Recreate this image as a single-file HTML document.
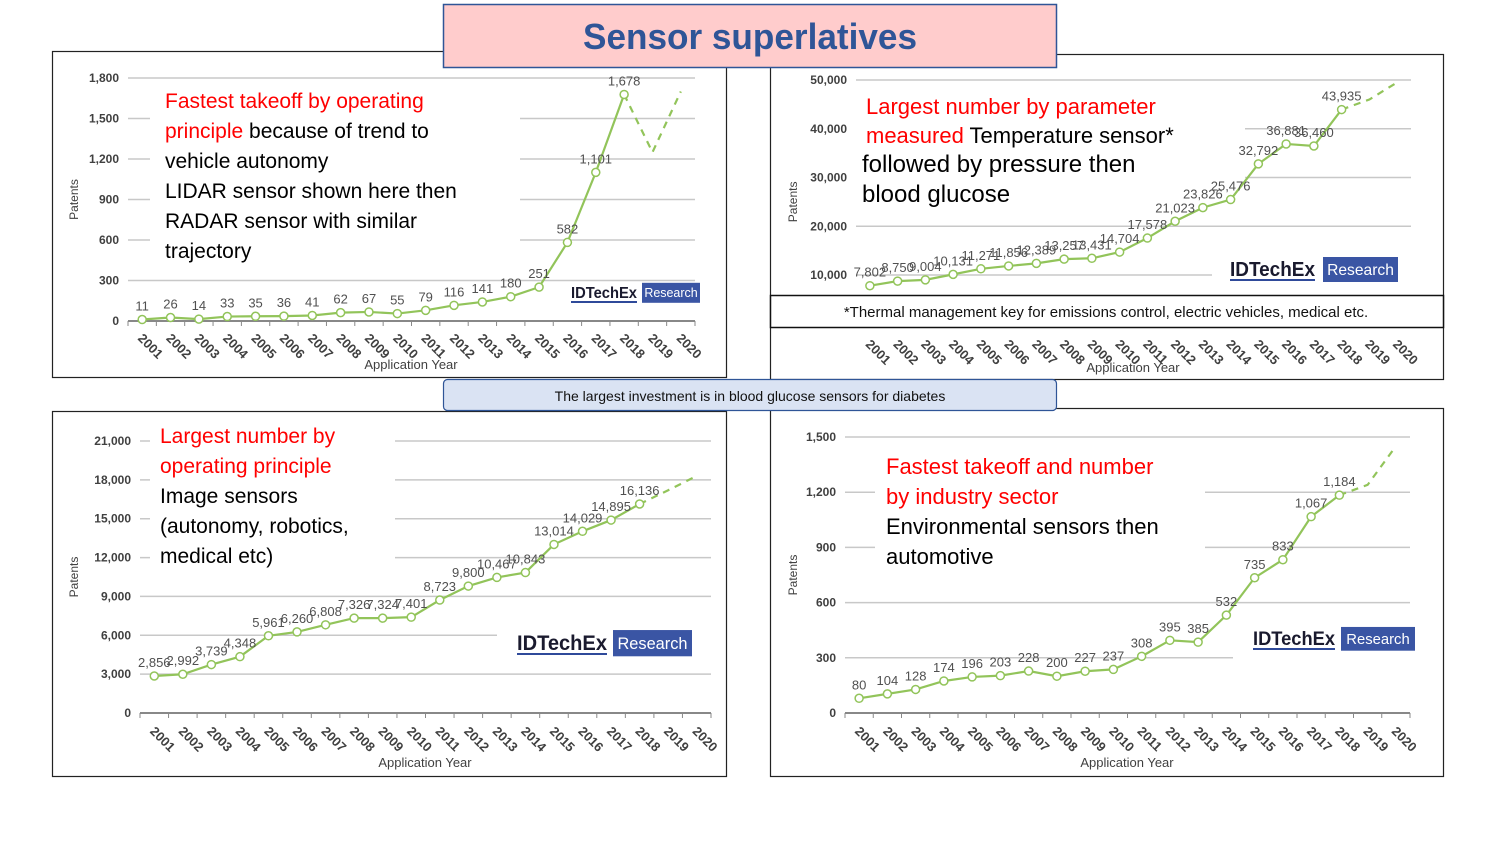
<!DOCTYPE html>
<html><head><meta charset="utf-8"><style>
html,body{margin:0;padding:0;background:#fff;}
svg{display:block;font-family:"Liberation Sans",sans-serif;}
</style></head><body>
<svg id="s" width="1500" height="844" viewBox="0 0 1500 844" xmlns="http://www.w3.org/2000/svg">
<rect width="1500" height="844" fill="#fff"/>
<rect x="52.5" y="51.5" width="674" height="326" fill="#fff" stroke="#222" stroke-width="1.2"/>
<rect x="770.5" y="54.5" width="673" height="325" fill="#fff" stroke="#222" stroke-width="1.2"/>
<rect x="52.5" y="411.5" width="674" height="365" fill="#fff" stroke="#222" stroke-width="1.2"/>
<rect x="770.5" y="408.5" width="673" height="368" fill="#fff" stroke="#222" stroke-width="1.2"/>
<g id="charts"></g>
<rect x="443.5" y="4.5" width="613" height="63" fill="#ffcccc" stroke="#2f5597" stroke-width="1.5"/>
<text x="750" y="49" text-anchor="middle" font-size="36" font-weight="bold" fill="#2f5597" textLength="334" lengthAdjust="spacingAndGlyphs">Sensor superlatives</text>
<rect x="443.5" y="379.5" width="613" height="31" rx="4" fill="#dae3f3" stroke="#2f5597" stroke-width="1.2"/>
<text x="750" y="401" text-anchor="middle" font-size="14" fill="#111">The largest investment is in blood glucose sensors for diabetes</text>
</svg>
<script>
const NS="http://www.w3.org/2000/svg";
const G=document.getElementById('charts');
function el(t,a,txt){const e=document.createElementNS(NS,t);for(const k in a)e.setAttribute(k,a[k]);if(txt!==undefined)e.textContent=txt;G.appendChild(e);return e;}
function fmt(v){return v.toLocaleString('en-US');}
function chart(c){
  const step=(c.x1-c.x0)/20;
  const Y=v=>c.y0-(v-c.vmin)*(c.y0-c.ytop)/(c.vmax-c.vmin);
  const X=i=>c.x0+step*(i+0.5);
  for(let v=c.gmin;v<=c.vmax;v+=c.gstep){
    const y=Y(v);
    el('line',{x1:c.x0,x2:c.x1,y1:y,y2:y,stroke:'#c8c8c8','stroke-width':1.5});
    el('text',{x:c.x0-9,y:y+4,'text-anchor':'end','font-size':12,'font-weight':'bold',fill:'#404040'},fmt(v));
  }
  if(c.axis){el('line',{x1:c.x0,x2:c.x1,y1:c.y0,y2:c.y0,stroke:'#888','stroke-width':2});
    for(let i=0;i<=20;i++)el('line',{x1:c.x0+step*i,x2:c.x0+step*i,y1:c.y0,y2:c.y0+5,stroke:'#888','stroke-width':1});}
  c.masks.forEach(m=>el('rect',{x:m[0],y:m[1],width:m[2],height:m[3],fill:'#fff'}));
  const L=c.logo;
  el('text',{x:L[0],y:L[1],'font-size':L[2],'font-weight':'bold',fill:'#1a1a2e',textLength:L[3],lengthAdjust:'spacingAndGlyphs'},'IDTechEx');
  el('line',{x1:L[0],x2:L[0]+L[3],y1:L[1]+4,y2:L[1]+4,stroke:'#2f4a9a','stroke-width':2});
  el('rect',{x:L[4],y:L[1]-L[2]*0.95,width:L[5],height:L[2]*1.25,fill:'#3a55a4'});
  el('text',{x:L[4]+L[5]/2,y:L[1]-1,'text-anchor':'middle','font-size':L[2]*0.78,fill:'#fff'},'Research');
  const d=c.data;
  el('polyline',{points:d.map((v,i)=>X(i)+','+Y(v)).join(' '),fill:'none',stroke:'#92c45a','stroke-width':2.2});
  el('polyline',{points:[X(17)+','+Y(d[17]),X(18)+','+Y(c.ext[0]),X(19)+','+Y(c.ext[1])].join(' '),fill:'none',stroke:'#92c45a','stroke-width':2.2,'stroke-dasharray':'7,6'});
  d.forEach((v,i)=>{el('circle',{cx:X(i),cy:Y(v),r:4,fill:'#fff',stroke:'#92c45a','stroke-width':1.5});
    el('text',{x:X(i),y:Y(v)-9,'text-anchor':'middle','font-size':c.lfs||13,fill:'#505050'},fmt(v));});
  for(let i=0;i<20;i++){
    const x=X(i)-5,y=c.ly+2;
    el('text',{x:x,y:y,'font-size':13,'font-weight':'bold',fill:'#404040',transform:`rotate(45 ${x} ${y})`},String(2001+i));
  }
  el('text',{x:c.ax[0],y:c.ax[1],'text-anchor':'middle','font-size':13,fill:'#404040'},'Application Year');
  const py=(c.y0+c.ytop)/2;
  el('text',{x:c.px,y:py,'text-anchor':'middle','font-size':12,fill:'#404040',transform:`rotate(-90 ${c.px} ${py})`},'Patents');
  c.text.forEach(t=>{const e=el('text',{x:t.x,y:t.y,'font-size':t.fs||21,fill:'#000'});
    t.p.forEach(p=>{const s=document.createElementNS(NS,'tspan');s.textContent=p[0];s.setAttribute('fill',p[1]?'#ff0000':'#000');e.appendChild(s);});});
}
chart({x0:128,x1:695,y0:321,ytop:78,vmin:0,vmax:1800,gmin:0,gstep:300,axis:1,
 data:[11,26,14,33,35,36,41,62,67,55,79,116,141,180,251,582,1101,1678],ext:[1250,1700],
 masks:[[150,88,370,175]],logo:[571,298,16,66,642,58],ly:337,ax:[411,369],px:78,
 text:[{x:165,y:108,p:[["Fastest takeoff by operating",1]]},{x:165,y:138,p:[["principle",1],[" because of trend to",0]]},
 {x:165,y:168,p:[["vehicle autonomy",0]]},{x:165,y:198,p:[["LIDAR sensor shown here then",0]]},
 {x:165,y:228,p:[["RADAR sensor with similar",0]]},{x:165,y:258,p:[["trajectory",0]]}]});
chart({x0:140,x1:711,y0:713,ytop:441,vmin:0,vmax:21000,gmin:0,gstep:3000,axis:1,
 data:[2856,2992,3739,4348,5961,6260,6808,7326,7324,7401,8723,9800,10467,10843,13014,14029,14895,16136],ext:[17200,18300],
 masks:[[150,425,245,150],[497,620,215,30]],logo:[517,650,21,90,613,79],ly:730,ax:[425,767],px:78,lfs:13,
 text:[{x:160,y:443,p:[["Largest number by",1]]},{x:160,y:473,p:[["operating principle",1]]},
 {x:160,y:503,p:[["Image sensors",0]]},{x:160,y:533,p:[["(autonomy, robotics,",0]]},{x:160,y:563,p:[["medical etc)",0]]}]});
chart({x0:856,x1:1411,y0:323.75,ytop:80,vmin:0,vmax:50000,gmin:10000,gstep:10000,axis:0,
 data:[7802,8750,9004,10131,11271,11856,12389,13257,13431,14704,17578,21023,23826,25476,32792,36881,36460,43935],ext:[46000,49500],
 masks:[[855,90,390,120],[1212,250,200,35]],logo:[1230,276,20,85,1323,75],ly:343,ax:[1133,372],px:797,
 text:[{x:866,y:114,fs:22,p:[["Largest number by parameter",1]]},{x:866,y:143,fs:22,p:[["measured",1],[" Temperature sensor*",0]]},
 {x:862,y:172,fs:24,p:[["followed by pressure then",0]]},{x:862,y:202,fs:24,p:[["blood glucose",0]]}]});
chart({x0:845,x1:1410,y0:713,ytop:437,vmin:0,vmax:1500,gmin:0,gstep:300,axis:1,
 data:[80,104,128,174,196,203,228,200,227,237,308,395,385,532,735,833,1067,1184],ext:[1240,1450],
 masks:[[875,450,330,125],[1233,615,195,45]],logo:[1253,645,19,82,1341,74],ly:730,ax:[1127,767],px:797,lfs:13,
 text:[{x:886,y:474,fs:22,p:[["Fastest takeoff and number",1]]},{x:886,y:504,fs:22,p:[["by industry sector",1]]},
 {x:886,y:534,fs:22,p:[["Environmental sensors then",0]]},{x:886,y:564,fs:22,p:[["automotive",0]]}]});
el('rect',{x:770.5,y:295.5,width:673,height:32,fill:'#fff',stroke:'#111','stroke-width':1.5});
el('text',{x:1106,y:317,'text-anchor':'middle','font-size':15,fill:'#111'},'*Thermal management key for emissions control, electric vehicles, medical etc.');
</script>
</body></html>
